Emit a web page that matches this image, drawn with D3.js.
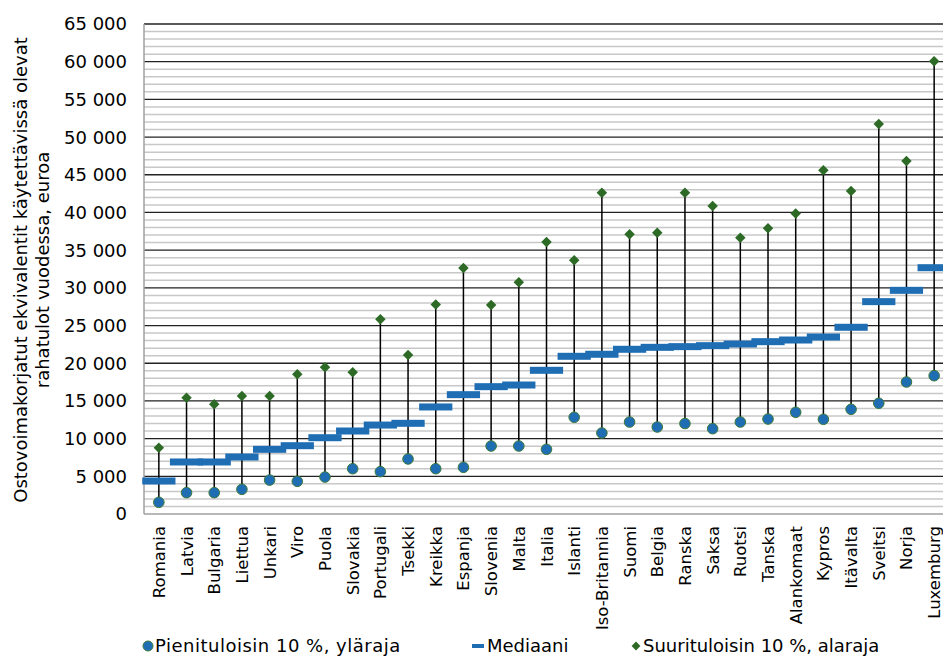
<!DOCTYPE html>
<html>
<head>
<meta charset="utf-8">
<script src="https://cdn.jsdelivr.net/npm/d3@7"></script>
<style>
  body { margin: 0; background: #fff; }
  svg text { font-family: "DejaVu Sans", Verdana, sans-serif; fill: #000; }
</style>
</head>
<body>
<svg id="chart"></svg>
<script>
// countries sorted by median
const countries = ["Romania","Latvia","Bulgaria","Liettua","Unkari","Viro","Puola","Slovakia","Portugali","Tsekki",
  "Kreikka","Espanja","Slovenia","Malta","Italia","Islanti","Iso-Britannia","Suomi","Belgia","Ranska",
  "Saksa","Ruotsi","Tanska","Alankomaat","Kypros","Itävalta","Sveitsi","Norja","Luxemburg"];
// Pienituloisin 10 %, yläraja
const lowValues = [1550,2830,2830,3270,4500,4330,4900,6010,5620,7300,
  6010,6190,9020,9020,8580,12830,10750,12200,11540,12000,
  11320,12200,12600,13490,12560,13890,14690,17510,18350];
// Mediaani
const medianValues = [4380,6900,6900,7560,8580,9060,10120,11010,11800,12030,
  14200,15830,16890,17110,19060,20920,21190,21850,22110,22200,
  22330,22550,22860,23080,23480,24770,28170,29670,32670];
// Suurituloisin 10 %, alaraja
const highValues = [8800,15430,14550,15650,15650,18530,19460,18800,25830,21090,
  27780,32630,27730,30740,36080,33650,42630,37100,37320,42600,
  40860,36660,37900,39850,45590,42850,51740,46830,60050];
const yTicks = d3.range(0, 65001, 5000);
const yMinor = d3.range(0, 65001, 1000);
const legendLabels = ["Pienituloisin 10 %, yläraja", "Mediaani", "Suurituloisin 10 %, alaraja"];

const W = 943, H = 657;
const margin = { left: 145, right: 948, top: 24, bottom: 514 };
const blue = "#1f6db3", green = "#2c6a26";

const svg = d3.select("#chart").attr("width", W).attr("height", H);

const x = d3.scaleBand().domain(countries).range([margin.left, margin.right]);
const y = d3.scaleLinear().domain([0, 65000]).range([margin.bottom, margin.top]);

// minor grid
svg.append("g").selectAll("line")
  .data(yMinor.filter(v => v % 5000 !== 0))
  .join("line")
    .attr("x1", margin.left - 1).attr("x2", margin.right)
    .attr("y1", d => y(d)).attr("y2", d => y(d))
    .style("stroke", "#c8c8c8").style("stroke-width", 1.5);

// major grid
svg.append("g").selectAll("line")
  .data(yTicks.filter(v => v > 0))
  .join("line")
    .attr("x1", margin.left - 1).attr("x2", margin.right)
    .attr("y1", d => y(d)).attr("y2", d => y(d))
    .style("stroke", "#222").style("stroke-width", 1.3);

// axis frame
svg.append("line").attr("x1", margin.left - 1).attr("x2", margin.right).attr("y1", y(0)).attr("y2", y(0))
  .style("stroke", "#a0a0a0").style("stroke-width", 1.5);
svg.append("line").attr("x1", margin.left - 1).attr("x2", margin.left - 1).attr("y1", margin.top).attr("y2", y(0))
  .style("stroke", "#a0a0a0").style("stroke-width", 1.5);

// y tick labels
svg.append("g").selectAll("text")
  .data(yTicks)
  .join("text")
    .attr("x", 127)
    .attr("y", d => y(d))
    .attr("dy", "0.36em")
    .attr("text-anchor", "end")
    .style("font-size", "18px")
    .text(d => d === 0 ? "0" : d3.format(",")(d).replace(",", " "));

// y title
const yt = svg.append("text")
  .attr("transform", "translate(27,270) rotate(-90)")
  .attr("text-anchor", "middle")
  .style("font-size", "18px");
yt.append("tspan").attr("x", 0).attr("dy", 0).text("Ostovoimakorjatut ekvivalentit käytettävissä olevat");
yt.append("tspan").attr("x", 0).attr("dy", "1.22em").text("rahatulot vuodessa, euroa");

const cx = d => x(d) + x.bandwidth() / 2;
const data = countries.map((c, i) => ({ c, lo: lowValues[i], med: medianValues[i], hi: highValues[i] }));

// high-low lines
svg.append("g").selectAll("line")
  .data(data)
  .join("line")
    .attr("x1", d => cx(d.c)).attr("x2", d => cx(d.c))
    .attr("y1", d => y(d.lo)).attr("y2", d => y(d.hi))
    .style("stroke", "#000").style("stroke-width", 1.5);

// median bars
const mw = x.bandwidth() * 1.2;
svg.append("g").selectAll("rect")
  .data(data)
  .join("rect")
    .attr("x", d => cx(d.c) - mw / 2)
    .attr("y", d => y(d.med) - 3.5)
    .attr("width", mw).attr("height", 7)
    .style("fill", blue);

// low circles
svg.append("g").selectAll("circle")
  .data(data)
  .join("circle")
    .attr("cx", d => cx(d.c)).attr("cy", d => y(d.lo))
    .attr("r", 5.3)
    .style("fill", blue).style("stroke", "#3d7a3a").style("stroke-width", 1);

// high diamonds
const diamond = d3.symbol().type(d3.symbolDiamond2).size(70);
svg.append("g").selectAll("path")
  .data(data)
  .join("path")
    .attr("transform", d => `translate(${cx(d.c)},${y(d.hi)})`)
    .attr("d", diamond)
    .style("fill", green);

// x labels
svg.append("g").selectAll("text")
  .data(countries)
  .join("text")
    .attr("transform", d => `translate(${cx(d) + 6},526) rotate(-90)`)
    .attr("text-anchor", "end")
    .style("font-size", "16.5px")
    .text(d => d);

// legend
const lg = svg.append("g").attr("transform", "translate(0,646)");
lg.append("circle").attr("cx", 148).attr("cy", 0).attr("r", 5)
  .style("fill", blue).style("stroke", "#3d7a3a");
lg.append("text").attr("x", 155).attr("y", 0).attr("dy", "0.36em").style("font-size", "18px")
  .style("letter-spacing", "0.5px").text(legendLabels[0]);
lg.append("rect").attr("x", 472).attr("y", -2).attr("width", 12).attr("height", 4).style("fill", blue);
lg.append("text").attr("x", 487).attr("y", 0).attr("dy", "0.36em").style("font-size", "18px").text(legendLabels[1]);
lg.append("path").attr("transform", "translate(636,0)").attr("d", d3.symbol().type(d3.symbolDiamond2).size(50))
  .style("fill", green);
lg.append("text").attr("x", 643).attr("y", 0).attr("dy", "0.36em").style("font-size", "18px").text(legendLabels[2]);
</script>
</body>
</html>
